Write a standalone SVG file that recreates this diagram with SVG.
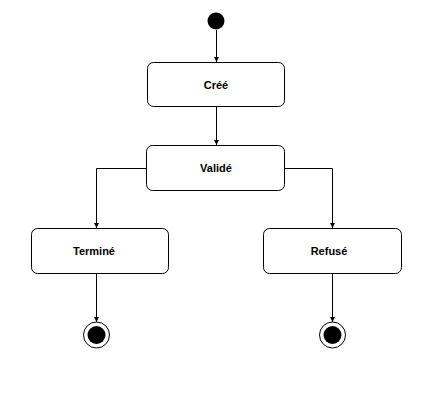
<svg xmlns="http://www.w3.org/2000/svg" width="432" height="410" viewBox="0 0 432 410">
<defs>
<style>
.st{fill:#fff;stroke:#000;stroke-width:1}
.lb{font-family:"Liberation Sans",Arial,sans-serif;font-weight:bold;font-size:11px;text-anchor:middle;fill:#000}
.cn{fill:none;stroke:#000;stroke-width:1}
</style>
<marker id="ah" markerWidth="6" markerHeight="6" refX="5" refY="2.5" orient="auto" markerUnits="userSpaceOnUse">
<path d="M0,0 L5,2.5 L0,5 Z" fill="#000"/>
</marker>
</defs>
<rect width="432" height="410" fill="#fff"/>
<g id="connectors">
<path class="cn" d="M216.5,30 V62" marker-end="url(#ah)"/>
<path class="cn" d="M216.5,107 V145" marker-end="url(#ah)"/>
<path class="cn" d="M146,168.5 H96.5 V228" marker-end="url(#ah)"/>
<path class="cn" d="M285,168.5 H332.5 V228" marker-end="url(#ah)"/>
<path class="cn" d="M96.5,274 V322" marker-end="url(#ah)"/>
<path class="cn" d="M332.5,274 V322" marker-end="url(#ah)"/>
</g>
<g id="initial"><circle cx="216" cy="21" r="8.5" fill="#000"/></g>
<g id="cree"><rect class="st" x="147.5" y="62.5" width="137" height="44" rx="6"/><text class="lb" x="216" y="89">Créé</text></g>
<g id="valide"><rect class="st" x="146.5" y="145.5" width="138" height="45" rx="6"/><text class="lb" x="216" y="172">Validé</text></g>
<g id="termine"><rect class="st" x="31.5" y="228.5" width="137" height="45" rx="6"/><text class="lb" x="94" y="255">Terminé</text></g>
<g id="refuse"><rect class="st" x="263.5" y="228.5" width="138" height="45" rx="6"/><text class="lb" x="329" y="255">Refusé</text></g>
<g id="final1"><circle cx="96.5" cy="335" r="13" fill="#fff" stroke="#000"/><circle cx="96.5" cy="335" r="9" fill="#000"/></g>
<g id="final2"><circle cx="332.5" cy="335" r="13" fill="#fff" stroke="#000"/><circle cx="332.5" cy="335" r="9" fill="#000"/></g>
</svg>
